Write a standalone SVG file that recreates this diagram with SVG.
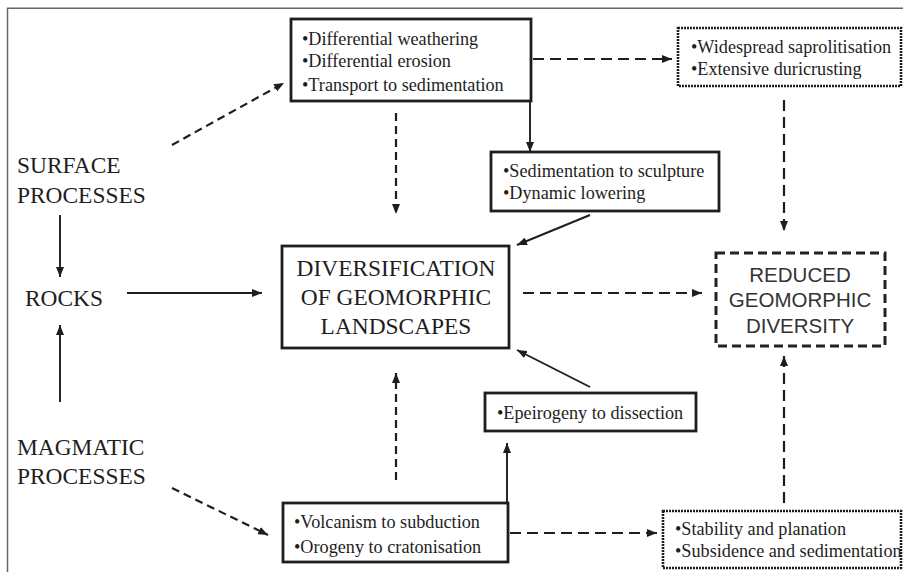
<svg xmlns="http://www.w3.org/2000/svg" width="903" height="572" viewBox="0 0 903 572">
<defs>
<style>
.serif{font-family:"Liberation Serif","Times New Roman",serif;fill:#1e1e1e}
.sans{font-family:"Liberation Sans",Arial,sans-serif;fill:#333}
.item{font-size:18.2px}
.big{font-size:23.4px}
.box{fill:#fff;stroke:#1e1e1e;stroke-width:2.8}
.dotted{fill:#fff;stroke:#1e1e1e;stroke-width:2.6;stroke-dasharray:2 1}
.dashedbox{fill:#fff;stroke:#222;stroke-width:3;stroke-dasharray:9 5}
.solid{fill:none;stroke:#1e1e1e;stroke-width:1.9}
.dash{fill:none;stroke:#1e1e1e;stroke-width:2.2;stroke-dasharray:11 6}
.ddash{fill:none;stroke:#1e1e1e;stroke-width:2.2;stroke-dasharray:8 5}
.frame{fill:none;stroke:#666;stroke-width:1.5}
</style>
<marker id="ah" viewBox="0 0 10 8" refX="10" refY="4" markerWidth="10" markerHeight="8" markerUnits="userSpaceOnUse" orient="auto">
<path d="M0,0 L10,4 L0,8 z" fill="#1e1e1e"/>
</marker>
</defs>
<rect width="903" height="572" fill="#fff"/>
<path class="frame" d="M7.5,572 V8.3 H903"/>

<g id="connectors">
<line class="ddash" x1="172" y1="145" x2="284" y2="83" marker-end="url(#ah)"/>
<line class="solid" x1="60" y1="215" x2="60" y2="277" marker-end="url(#ah)"/>
<line class="solid" x1="60" y1="402" x2="60" y2="325" marker-end="url(#ah)"/>
<line class="solid" x1="127" y1="293" x2="262" y2="293" marker-end="url(#ah)"/>
<line class="ddash" x1="172" y1="488" x2="268" y2="535" marker-end="url(#ah)"/>
<line class="dash" x1="533" y1="59" x2="672" y2="59" marker-end="url(#ah)"/>
<line class="solid" x1="530" y1="101" x2="530" y2="152" marker-end="url(#ah)"/>
<line class="ddash" x1="396" y1="113" x2="396" y2="214" marker-end="url(#ah)"/>
<line class="dash" x1="784" y1="100" x2="784" y2="231" marker-end="url(#ah)"/>
<line class="solid" x1="590" y1="215" x2="517" y2="245" marker-end="url(#ah)"/>
<line class="dash" x1="523" y1="293" x2="702" y2="293" marker-end="url(#ah)"/>
<line class="solid" x1="590" y1="387" x2="517" y2="350" marker-end="url(#ah)"/>
<line class="ddash" x1="396" y1="480" x2="396" y2="373" marker-end="url(#ah)"/>
<line class="solid" x1="507" y1="503" x2="507" y2="443" marker-end="url(#ah)"/>
<line class="dash" x1="510" y1="533" x2="657" y2="533" marker-end="url(#ah)"/>
<line class="dash" x1="784" y1="503" x2="784" y2="356" marker-end="url(#ah)"/>
</g>

<g id="surface">
<text class="serif big" x="17" y="173">SURFACE</text>
<text class="serif big" x="17" y="203">PROCESSES</text>
</g>
<g id="rocks">
<text class="serif big" x="25" y="306">ROCKS</text>
</g>
<g id="magmatic">
<text class="serif big" x="17" y="455">MAGMATIC</text>
<text class="serif big" x="17" y="484">PROCESSES</text>
</g>

<g id="weathering">
<rect class="box" x="291" y="19" width="240" height="82"/>
<text class="serif item" x="302" y="45">•Differential weathering</text>
<text class="serif item" x="302" y="67">•Differential erosion</text>
<text class="serif item" x="302" y="91">•Transport to sedimentation</text>
</g>

<g id="saprolitisation">
<rect class="dotted" x="678" y="28" width="223" height="58"/>
<text class="serif item" x="691" y="53">•Widespread saprolitisation</text>
<text class="serif item" x="691" y="75">•Extensive duricrusting</text>
</g>

<g id="sedimentation">
<rect class="box" x="491" y="152" width="228" height="59"/>
<text class="serif item" x="503" y="177">•Sedimentation to sculpture</text>
<text class="serif item" x="503" y="199">•Dynamic lowering</text>
</g>

<g id="diversification">
<rect class="box" x="282" y="246" width="227" height="102"/>
<text class="serif big" x="396" y="276" text-anchor="middle">DIVERSIFICATION</text>
<text class="serif big" x="396" y="305" text-anchor="middle">OF GEOMORPHIC</text>
<text class="serif big" x="396" y="334" text-anchor="middle">LANDSCAPES</text>
</g>

<g id="reduced">
<rect class="dashedbox" x="716" y="253" width="169" height="93"/>
<text class="sans" font-size="20.5" x="800" y="282" text-anchor="middle">REDUCED</text>
<text class="sans" font-size="20.5" x="800" y="307" text-anchor="middle">GEOMORPHIC</text>
<text class="sans" font-size="20.5" x="800" y="333" text-anchor="middle">DIVERSITY</text>
</g>

<g id="epeirogeny">
<rect class="box" x="485" y="393" width="211" height="38"/>
<text class="serif item" x="497" y="419">•Epeirogeny to dissection</text>
</g>

<g id="volcanism">
<rect class="box" x="283" y="503" width="225" height="59"/>
<text class="serif item" x="294" y="528">•Volcanism to subduction</text>
<text class="serif item" x="294" y="553">•Orogeny to cratonisation</text>
</g>

<g id="stability">
<rect class="dotted" x="663" y="511" width="238" height="57"/>
<text class="serif item" x="675" y="535">•Stability and planation</text>
<text class="serif item" x="675" y="557">•Subsidence and sedimentation</text>
</g>
</svg>
